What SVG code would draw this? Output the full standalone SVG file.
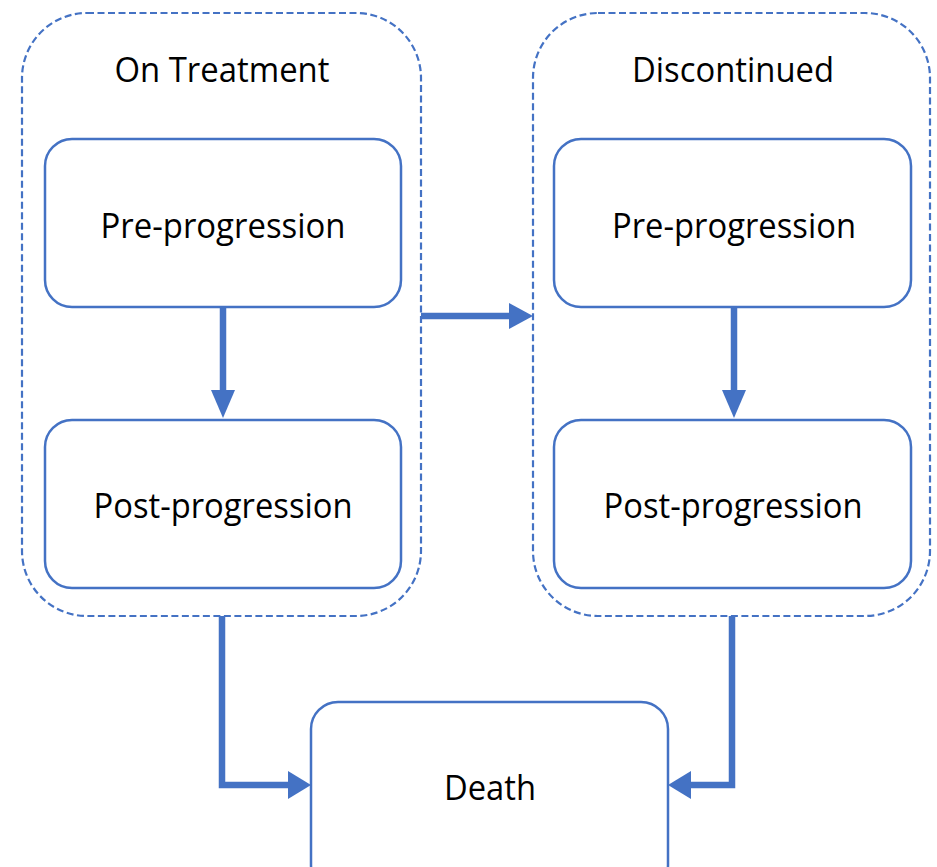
<svg xmlns="http://www.w3.org/2000/svg" width="937" height="867" viewBox="0 0 937 867">
<style>
.container{fill:none;stroke:#4472C4;stroke-width:2.2;stroke-dasharray:7 3.5}
.box{fill:#fff;stroke:#4472C4;stroke-width:2.5}
.lbl{font-family:"Open Sans","Noto Sans","DejaVu Sans",sans-serif;font-size:34px;fill:#000;text-anchor:middle}
.conn{fill:none;stroke:#4472C4;stroke-width:6.5}
.head{fill:#4472C4}
</style>
<rect width="937" height="867" fill="#fff"/>
<g id="on-treatment">
<rect class="container" x="22" y="13" width="399" height="603" rx="65" ry="65"/>
<text class="lbl" x="222" y="82" textLength="215" lengthAdjust="spacingAndGlyphs">On Treatment</text>
</g>
<g id="discontinued">
<rect class="container" x="533" y="13" width="397" height="603" rx="65" ry="65"/>
<text class="lbl" x="733" y="82" textLength="202" lengthAdjust="spacingAndGlyphs">Discontinued</text>
</g>
<g id="ot-pre">
<rect class="box" x="45" y="139" width="356" height="168" rx="27" ry="27"/>
<text class="lbl" x="223" y="238" textLength="245" lengthAdjust="spacingAndGlyphs">Pre-progression</text>
</g>
<g id="ot-post">
<rect class="box" x="45" y="420" width="356" height="168" rx="27" ry="27"/>
<text class="lbl" x="223" y="518" textLength="259" lengthAdjust="spacingAndGlyphs">Post-progression</text>
</g>
<g id="dc-pre">
<rect class="box" x="554" y="139" width="357" height="168" rx="27" ry="27"/>
<text class="lbl" x="734" y="238" textLength="244" lengthAdjust="spacingAndGlyphs">Pre-progression</text>
</g>
<g id="dc-post">
<rect class="box" x="554" y="420" width="357" height="168" rx="27" ry="27"/>
<text class="lbl" x="733" y="518" textLength="259" lengthAdjust="spacingAndGlyphs">Post-progression</text>
</g>
<g id="death">
<rect class="box" x="311" y="702" width="357" height="190" rx="27" ry="27"/>
<text class="lbl" x="490" y="800" textLength="92" lengthAdjust="spacingAndGlyphs">Death</text>
</g>
<g id="connectors">
<path class="conn" d="M223,307 V392"/>
<polygon class="head" points="211,390 235,390 223,418"/>
<path class="conn" d="M734,307 V392"/>
<polygon class="head" points="722,390 746,390 734,418"/>
<path class="conn" d="M421,316 H512"/>
<polygon class="head" points="509,303 509,329 533,316"/>
<path class="conn" d="M222,616 V785 H290"/>
<polygon class="head" points="288,771 288,799 311,785"/>
<path class="conn" d="M732,616 V785 H689"/>
<polygon class="head" points="691,771 691,799 668,785"/>
</g>
</svg>
